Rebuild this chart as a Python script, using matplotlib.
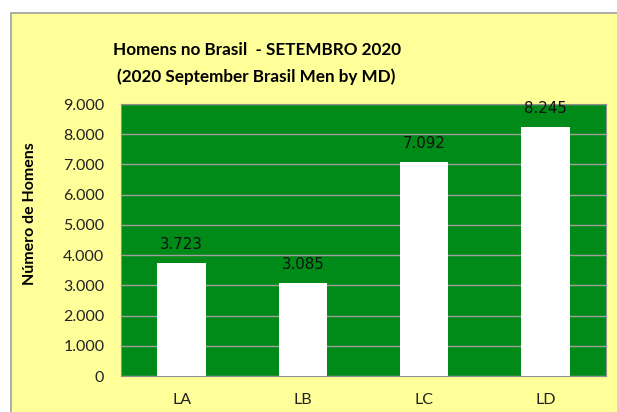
import matplotlib.pyplot as plt
import numpy as np
from matplotlib.patches import Rectangle
from matplotlib.ticker import FuncFormatter

categories = ['LA', 'LB', 'LC', 'LD']
values = [3723, 3085, 7092, 8245]
value_labels = ['3.723', '3.085', '7.092', '8.245']

W, H = 617, 412
fig = plt.figure(figsize=(W / 100, H / 100), dpi=100)
fig.patch.set_facecolor('white')

# yellow chart area with gray border (cut off at right / bottom)
fig.patches.append(Rectangle((11 / W, -0.05), 1.1, 1 - 13 / H + 0.05,
                             transform=fig.transFigure, facecolor='#FFFF99',
                             edgecolor='#A0A0A0', linewidth=1.2, zorder=-10))

ax = fig.add_axes([121 / W, 1 - 376 / H, (606 - 121) / W, (376 - 104) / H])
ax.set_zorder(1)
ax.set_facecolor('#008A17')

x = np.arange(len(categories))
ax.bar(x, values, width=0.4, color='white', zorder=3)
ax.set_xlim(-0.5, 3.5)
ax.set_ylim(0, 9000)
ax.set_yticks(np.arange(0, 9001, 1000))
ax.yaxis.set_major_formatter(FuncFormatter(lambda v, p: f'{int(v):,}'.replace(',', '.')))
ax.set_xticks(x)
ax.set_xticklabels(categories)
ax.grid(axis='y', color='#A0A0A0', linewidth=1, zorder=1)
ax.tick_params(length=0, labelsize=11.5, colors='#222222')
ax.tick_params(axis='x', pad=12)
ax.tick_params(axis='y', pad=12)
for lab in ax.get_xticklabels() + ax.get_yticklabels():
    lab.set_fontfamily('Lato')
for s in ax.spines.values():
    s.set_color('#909090')

for xi, v, t in zip(x, values, value_labels):
    ax.annotate(t, (xi, v), xytext=(0, 8), textcoords='offset points',
                ha='center', va='bottom', fontsize=10.8, color='#111111')

fig.text(0.416, 1 - 50 / H, 'Homens no Brasil  - SETEMBRO 2020', ha='center', va='center',
         fontsize=12.3, fontweight='bold', family='Lato')
fig.text(0.416, 1 - 77 / H, '(2020 September Brasil Men by MD)', ha='center', va='center',
         fontsize=12.3, fontweight='bold', family='Lato')
fig.text(30 / W, 1 - 214 / H, 'Número de Homens', rotation=90, ha='center', va='center',
         fontsize=11.5, fontweight='bold', family='Lato')

fig.savefig('out.png', dpi=100)
